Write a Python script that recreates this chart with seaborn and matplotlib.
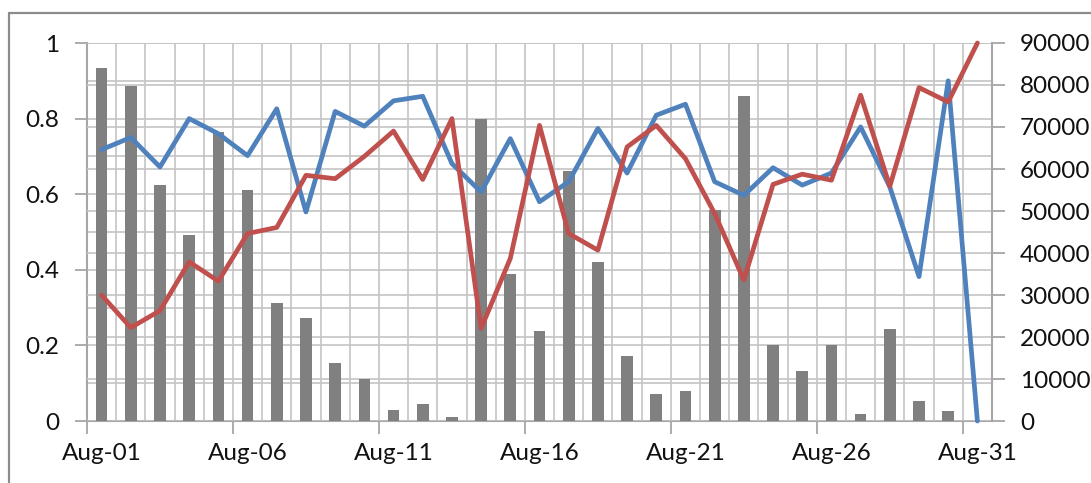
import numpy as np
import pandas as pd
import matplotlib
matplotlib.use("Agg")
import matplotlib.pyplot as plt
from matplotlib.lines import Line2D
from matplotlib.ticker import MultipleLocator, FixedLocator, NullFormatter, FuncFormatter
import seaborn as sns

# Daily data for August
days = [f"Aug-{d:02d}" for d in range(1, 32)]

volume = [84100, 79850, 56300, 44400, 68700, 54950, 28000, 24600, 13700, 10000,
          2540, 4120, 1030, 72000, 35100, 21500, 59600, 37900, 15540, 6340,
          7220, 50350, 77300, 18000, 11970, 18000, 1660, 21800, 4760, 2300, 0]

blue_ratio = [0.718, 0.750, 0.672, 0.800, 0.760, 0.702, 0.826, 0.553, 0.819, 0.780,
              0.847, 0.859, 0.681, 0.606, 0.747, 0.580, 0.633, 0.774, 0.656, 0.809,
              0.838, 0.633, 0.597, 0.670, 0.624, 0.656, 0.778, 0.619, 0.382, 0.900, 0.0]

red_ratio = [0.333, 0.247, 0.292, 0.421, 0.370, 0.496, 0.512, 0.650, 0.641, 0.700,
             0.767, 0.639, 0.800, 0.245, 0.430, 0.782, 0.496, 0.452, 0.725, 0.782,
             0.694, 0.549, 0.373, 0.626, 0.653, 0.637, 0.862, 0.621, 0.882, 0.844, 1.0]

label_every = 5

df = pd.DataFrame({"day": days, "volume": volume,
                   "blue": blue_ratio, "red": red_ratio})
df["pos"] = np.arange(len(df))

BAR = "#808080"
BLUE = "#4F81BD"
RED = "#C0504D"
GRID = "#C4C4C4"
AXIS = "#A6A6A6"
TEXT = "#111111"

sns.set_theme(style="white")
plt.rcParams["font.family"] = ["Lato", "DejaVu Sans"]
plt.rcParams["xtick.labelcolor"] = TEXT
plt.rcParams["ytick.labelcolor"] = TEXT

fig = plt.figure(figsize=(10.91, 4.83), dpi=100)
W, H = 1091, 483
rect = [87 / W, 1 - 421 / H, (992 - 87) / W, (421 - 43) / H]

# base axes: left scale and grid
ax = fig.add_axes(rect)
n = len(df)
ax.set_xlim(-0.5, n - 0.5)
ax.set_ylim(0, 1)
ax.yaxis.set_minor_locator(MultipleLocator(0.1))
ax.set_yticks([0, 0.2, 0.4, 0.6, 0.8, 1.0])
ax.set_yticklabels(["0", "0.2", "0.4", "0.6", "0.8", "1"])
ax.grid(True, axis="y", which="both", color=GRID, lw=1.2)
boundaries = np.arange(-0.5, n, 1.0)
ax.vlines(boundaries, 0, 1, color=GRID, lw=1.2, zorder=0.5)
ax.set_axisbelow(True)

# x labels at category centres, tick marks on boundaries every 5 days
ax.set_xticks(df["pos"][::label_every])
ax.set_xticklabels(df["day"][::label_every])
ax.xaxis.set_minor_locator(FixedLocator(boundaries[::label_every]))
ax.xaxis.set_minor_formatter(NullFormatter())
ax.tick_params(axis="x", which="major", length=0, pad=16, labelsize=17.5)
ax.tick_params(axis="x", which="minor", length=9, width=1.3, color=AXIS, bottom=True)
ax.tick_params(axis="y", which="major", left=True, length=9, width=1.3, color=AXIS,
               pad=11, labelsize=17.5)
ax.tick_params(axis="y", which="minor", length=0)
for s in ["top", "right"]:
    ax.spines[s].set_visible(False)
for s in ["left", "bottom"]:
    ax.spines[s].set_color(AXIS)
    ax.spines[s].set_linewidth(1.5)
ax.set_xlabel("")
ax.set_ylabel("")

# right axes: volume bars
ax2 = ax.twinx()
ax2.set_zorder(ax.get_zorder() + 1)
ax2.patch.set_visible(False)
sns.barplot(data=df, x="day", y="volume", color=BAR, saturation=1, width=0.4,
            linewidth=0, ax=ax2, zorder=2)
ax2.set_xlim(-0.5, n - 0.5)
ax2.set_ylim(0, 90000)
ax2.yaxis.set_major_locator(MultipleLocator(10000))
ax2.yaxis.set_major_formatter(FuncFormatter(lambda v, p: f"{int(v)}"))
ax2.grid(True, axis="y", which="major", color=GRID, lw=1.2)
ax2.set_axisbelow(True)
ax2.tick_params(axis="y", right=True, length=9, width=1.3, color=AXIS, pad=11,
                labelsize=17.5)
ax2.tick_params(axis="x", bottom=False, labelbottom=False)
for s in ["top", "left", "bottom"]:
    ax2.spines[s].set_visible(False)
ax2.spines["right"].set_color(AXIS)
ax2.spines["right"].set_linewidth(1.5)
ax2.set_xlabel("")
ax2.set_ylabel("")

# top axes: ratio lines on the left scale
ax3 = ax.twinx()
ax3.set_zorder(ax2.get_zorder() + 1)
ax3.patch.set_visible(False)
sns.lineplot(data=df, x="pos", y="blue", color=BLUE, lw=3.4, ax=ax3)
sns.lineplot(data=df, x="pos", y="red", color=RED, lw=3.4, ax=ax3)
for line in ax3.lines:
    line.set_clip_on(False)
ax3.set_xlim(-0.5, n - 0.5)
ax3.set_ylim(0, 1)
ax3.axis("off")

# chart area border
fig.add_artist(Line2D([9 / W, 1], [1 - 12.5 / H] * 2, color="#8C8C8C", lw=1.6,
                      transform=fig.transFigure))
fig.add_artist(Line2D([9 / W] * 2, [1 - 12.5 / H, 0], color="#8C8C8C", lw=1.6,
                      transform=fig.transFigure))

fig.savefig("out.png", dpi=100)
